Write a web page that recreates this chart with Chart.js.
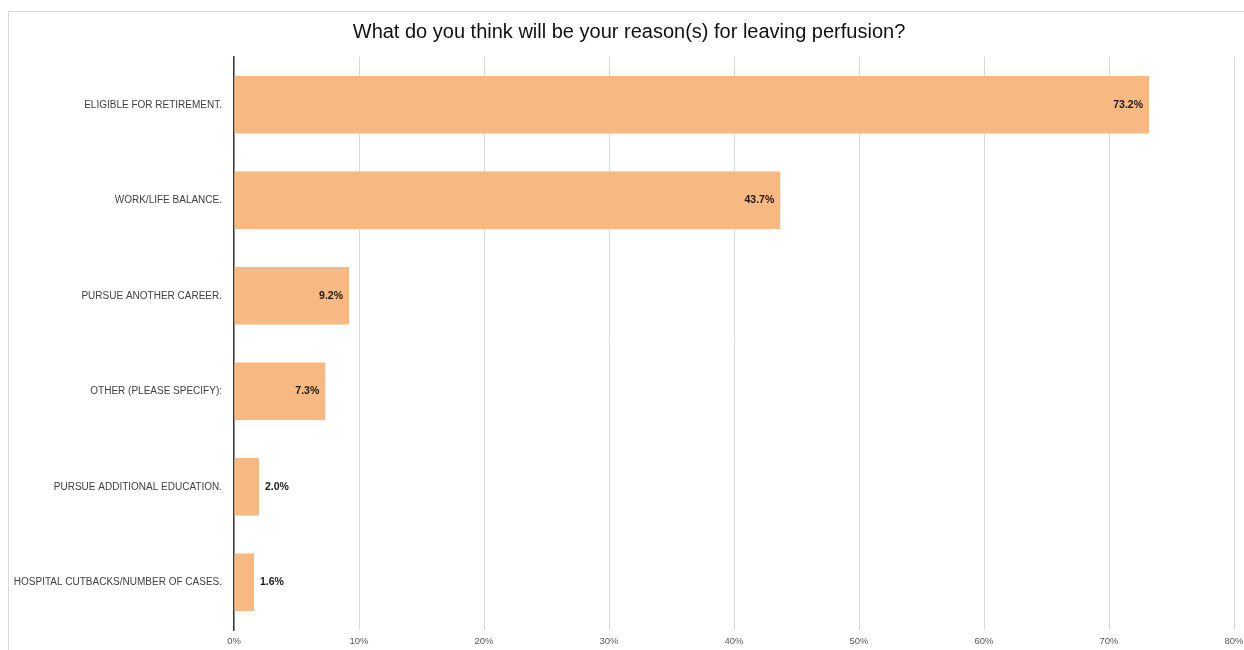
<!DOCTYPE html>
<html>
<head>
<meta charset="utf-8">
<script src="https://cdn.jsdelivr.net/npm/chart.js@4/dist/chart.umd.min.js"></script>
<style>
  html, body { margin: 0; padding: 0; background: #ffffff; }
  #wrap { position: relative; width: 1244px; height: 650px; }
</style>
</head>
<body>
<div id="wrap"><canvas id="c" width="1244" height="650"></canvas></div>
<script>
const categories = [
  "ELIGIBLE FOR RETIREMENT.",
  "WORK/LIFE BALANCE.",
  "PURSUE ANOTHER CAREER.",
  "OTHER (PLEASE SPECIFY):",
  "PURSUE ADDITIONAL EDUCATION.",
  "HOSPITAL CUTBACKS/NUMBER OF CASES."
];
const values = [73.2, 43.7, 9.2, 7.3, 2.0, 1.6];
const xTicks = [0, 10, 20, 30, 40, 50, 60, 70, 80];
const titleText = "What do you think will be your reason(s) for leaving perfusion?";

const frame = {
  id: 'frame',
  beforeDraw(chart) {
    const ctx = chart.ctx;
    ctx.save();
    ctx.fillStyle = '#ffffff';
    ctx.fillRect(0, 0, chart.width, chart.height);
    ctx.strokeStyle = '#d9d9d9';
    ctx.lineWidth = 1;
    ctx.strokeRect(8.5, 11.5, chart.width + 10, chart.height + 10);
    ctx.restore();
  }
};

const titleShift = {
  id: 'titleShift',
  afterLayout(chart) {
    const t = chart.titleBlock;
    if (t) { t.left += 8; t.right += 8; }
  }
};

const valueLabels = {
  id: 'valueLabels',
  afterDatasetsDraw(chart) {
    const ctx = chart.ctx;
    const meta = chart.getDatasetMeta(0);
    ctx.save();
    ctx.font = 'bold 10.5px "Liberation Sans", Arial, sans-serif';
    ctx.fillStyle = '#1a1a1a';
    ctx.textBaseline = 'middle';
    meta.data.forEach((bar, i) => {
      const v = values[i];
      const txt = v.toFixed(1) + '%';
      if (v > 5) {
        ctx.textAlign = 'right';
        ctx.fillText(txt, bar.x - 6, bar.y);
      } else {
        ctx.textAlign = 'left';
        ctx.fillText(txt, bar.x + 6, bar.y);
      }
    });
    ctx.restore();
  }
};

new Chart(document.getElementById('c'), {
  type: 'bar',
  data: {
    labels: categories,
    datasets: [{
      data: values,
      backgroundColor: '#F8B882',
      borderWidth: 0,
      categoryPercentage: 0.6,
      barPercentage: 1.0
    }]
  },
  options: {
    indexAxis: 'y',
    responsive: false,
    animation: false,
    layout: { padding: { left: 8, right: 10, top: 0, bottom: 0 } },
    plugins: {
      legend: { display: false },
      tooltip: { enabled: false },
      title: {
        display: true,
        text: titleText,
        color: '#111111',
        font: { family: '"Liberation Sans", Arial, sans-serif', size: 20, weight: 'normal', lineHeight: 1.2 },
        padding: { top: 20, bottom: 13 }
      }
    },
    scales: {
      x: {
        min: 0,
        max: 80,
        afterBuildTicks(scale) { scale.ticks = xTicks.map(v => ({ value: v })); },
        afterFit(scale) { scale.height = 20; scale.paddingLeft = 0; scale.paddingRight = 0; },
        grid: { color: '#d9d9d9', lineWidth: 1, drawTicks: false },
        border: { display: false },
        ticks: {
          padding: 6,
          color: '#595959',
          font: { family: '"Liberation Sans", Arial, sans-serif', size: 9.5 },
          callback: (v) => v + '%'
        }
      },
      y: {
        afterFit(scale) { scale.width = 226; },
        grid: { display: false, drawTicks: false },
        border: { display: true, color: '#3a3a3a', width: 1.5 },
        ticks: {
          padding: 12,
          color: '#404040',
          font: { family: '"Liberation Sans", Arial, sans-serif', size: 10 }
        }
      }
    }
  },
  plugins: [frame, titleShift, valueLabels]
});
</script>
</body>
</html>
